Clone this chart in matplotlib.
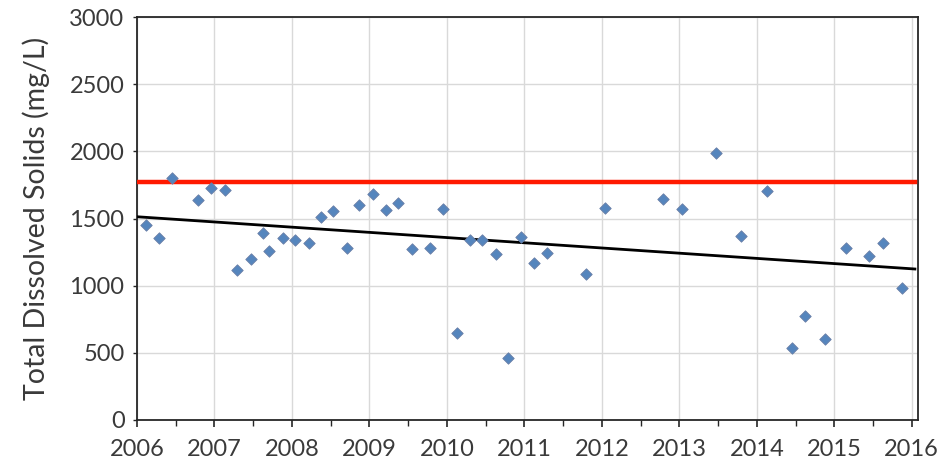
import matplotlib
matplotlib.use("Agg")
import matplotlib.pyplot as plt
from matplotlib.ticker import MultipleLocator
import numpy as np

# Sample dates (decimal years) and Total Dissolved Solids (mg/L)
dates = [2006.12, 2006.28, 2006.45, 2006.79, 2006.96, 2007.13, 2007.29, 2007.47,
         2007.63, 2007.71, 2007.89, 2008.04, 2008.22, 2008.37, 2008.53, 2008.71,
         2008.87, 2009.05, 2009.21, 2009.37, 2009.55, 2009.78, 2009.95, 2010.13,
         2010.30, 2010.45, 2010.63, 2010.79, 2010.95, 2011.13, 2011.29, 2011.79,
         2012.04, 2012.79, 2013.03, 2013.47, 2013.79, 2014.13, 2014.46, 2014.62,
         2014.88, 2015.15, 2015.45, 2015.63, 2015.87]
tds = [1455, 1355, 1800, 1638, 1725, 1712, 1117, 1198,
       1394, 1258, 1353, 1340, 1315, 1509, 1556, 1278,
       1600, 1682, 1563, 1618, 1271, 1278, 1568, 650,
       1340, 1340, 1236, 459, 1364, 1166, 1240, 1087,
       1576, 1645, 1568, 1990, 1372, 1705, 534, 776,
       603, 1278, 1223, 1315, 980]

standard_value = 1775
trend_x = [2006.0, 2016.04]
trend_y = [1513, 1124]

year_ticks = list(range(2006, 2017))
y_ticks = [0, 500, 1000, 1500, 2000, 2500, 3000]

plt.rcParams['font.family'] = ['Lato', 'DejaVu Sans']

fig = plt.figure(figsize=(9.41, 4.67), dpi=100)
ax = fig.add_axes([137/941, 1 - 420/467, (918-137)/941, (420-17)/467])

ax.set_xlim(2006, 2016.08)
ax.set_ylim(0, 3000)
ax.set_xticks(year_ticks)
ax.set_xticklabels([str(y) for y in year_ticks])
ax.xaxis.set_minor_locator(MultipleLocator(0.5))
ax.set_yticks(y_ticks)
ax.set_yticklabels([str(v) for v in y_ticks])

ax.grid(True, which='major', color='#d9d9d9', linewidth=1.0)
ax.set_axisbelow(True)

ax.axhline(standard_value, xmin=0, xmax=(2016.04-2006)/(2016.08-2006),
           color='#ff1a00', linewidth=3.2, zorder=3)
ax.plot(trend_x, trend_y, color='black', linewidth=2.0, zorder=3)
ax.scatter(dates, tds, marker='D', s=34, color='#5585bd',
           edgecolors='#6a7fa6', linewidths=0.6, zorder=4)

for s in ax.spines.values():
    s.set_color('#262626')
    s.set_linewidth(1.3)

ax.tick_params(axis='x', which='major', direction='out', length=5, width=1.2,
               labelsize=17, pad=9, colors='#262626', labelcolor='#3a3a3a')
ax.tick_params(axis='x', which='minor', direction='out', length=4, width=1.0,
               colors='#262626')
ax.tick_params(axis='y', which='major', direction='out', length=3, width=1.0,
               labelsize=17, pad=6, colors='#262626', labelcolor='#3a3a3a')

ax.set_ylabel('Total Dissolved Solids (mg/L)', fontsize=20.5,
              color='#3a3a3a', labelpad=14)

fig.savefig('out.png', dpi=100)
